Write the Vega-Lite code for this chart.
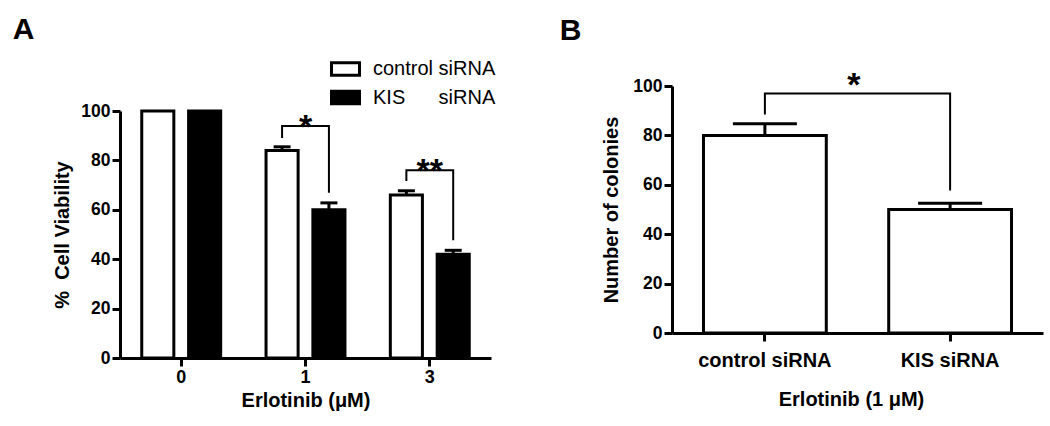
{
  "$schema": "https://vega.github.io/schema/vega-lite/v6.json",
  "background": "white",
  "padding": {"left": 12, "top": 15, "right": 5, "bottom": 5},
  "config": {
    "font": "Liberation Sans",
    "view": {"stroke": null},
    "axis": {
      "domainColor": "black", "domainWidth": 3, "tickColor": "black", "tickWidth": 3, "tickSize": 8,
      "labelColor": "black", "labelFont": "Liberation Sans", "labelFontWeight": "bold", "labelFontSize": 17.5,
      "titleColor": "black", "titleFont": "Liberation Sans", "titleFontWeight": "bold", "titleFontSize": 20,
      "grid": false
    },
    "title": {"fontSize": 30, "fontWeight": "bold", "anchor": "start", "color": "black", "font": "Liberation Sans"},
    "concat": {"spacing": 68}
  },
  "hconcat": [
    {
      "width": 371,
      "height": 272,
      "title": {"text": "A", "dx": -40, "offset": 41},
      "layer": [
        {
          "data": {"values": [
            {"dose": "0", "group": "control siRNA", "value": 100},
            {"dose": "0", "group": "KIS siRNA", "value": 100},
            {"dose": "1", "group": "control siRNA", "value": 84},
            {"dose": "1", "group": "KIS siRNA", "value": 60},
            {"dose": "3", "group": "control siRNA", "value": 66},
            {"dose": "3", "group": "KIS siRNA", "value": 42}
          ]},
          "mark": {"type": "bar", "stroke": "black", "strokeWidth": 3},
          "encoding": {
            "x": {"field": "dose", "type": "nominal", "scale": {"paddingInner": 0.365, "paddingOuter": 0.175},
                  "axis": {"title": "Erlotinib (μM)", "labelAngle": 0, "labelFontSize": 18, "labelPadding": 2, "titlePadding": 4}},
            "xOffset": {"field": "group", "type": "nominal", "scale": {"domain": ["control siRNA", "KIS siRNA"], "paddingInner": 0.315, "paddingOuter": 0}},
            "y": {"field": "value", "type": "quantitative", "scale": {"domain": [0, 100], "nice": false, "range": [272, 25]},
                  "axis": {"values": [0, 20, 40, 60, 80, 100], "title": "%\u00a0 Cell Viability", "labelPadding": 2, "titlePadding": 8}},
            "fill": {"field": "group", "type": "nominal", "scale": {"domain": ["control siRNA", "KIS siRNA"], "range": ["white", "black"]},
                     "legend": {"title": null, "orient": "none", "legendX": 214, "legendY": -28.5, "padding": 0,
                                "symbolType": "M-1.4,-0.63H1.4V0.63H-1.4Z", "symbolSize": 400, "symbolStrokeColor": "black", "symbolStrokeWidth": 3,
                                "labelFontSize": 20, "labelFont": "Liberation Sans", "labelColor": "black", "labelOffset": 16, "rowPadding": 3.5,
                                "labelExpr": "datum.label == 'KIS siRNA' ? 'KIS\u00a0\u00a0\u00a0\u00a0\u00a0\u00a0siRNA' : datum.label"}}
          }
        },
        {
          "data": {"values": [
            {"dose": "1", "group": "control siRNA", "value": 84, "err": 85.5},
            {"dose": "1", "group": "KIS siRNA", "value": 60, "err": 62.8},
            {"dose": "3", "group": "control siRNA", "value": 66, "err": 67.7},
            {"dose": "3", "group": "KIS siRNA", "value": 42, "err": 43.6}
          ]},
          "layer": [
            {
              "mark": {"type": "rule", "color": "black", "strokeWidth": 3},
              "encoding": {
                "x": {"field": "dose", "type": "nominal"},
                "xOffset": {"field": "group", "type": "nominal", "scale": {"domain": ["control siRNA", "KIS siRNA"]}},
                "y": {"field": "value", "type": "quantitative", "title": "%\u00a0 Cell Viability"},
                "y2": {"field": "err"}
              }
            },
            {
              "mark": {"type": "tick", "color": "black", "size": 17, "thickness": 3, "opacity": 1},
              "encoding": {
                "x": {"field": "dose", "type": "nominal"},
                "xOffset": {"field": "group", "type": "nominal", "scale": {"domain": ["control siRNA", "KIS siRNA"]}},
                "y": {"field": "err", "type": "quantitative", "title": "%\u00a0 Cell Viability"}
              }
            }
          ]
        },
        {
          "data": {"values": [
            {"id": "b1", "dose": "1", "group": "control siRNA", "y": 89.1, "ord": 1},
            {"id": "b1", "dose": "1", "group": "control siRNA", "y": 93.9, "ord": 2},
            {"id": "b1", "dose": "1", "group": "KIS siRNA", "y": 93.9, "ord": 3},
            {"id": "b1", "dose": "1", "group": "KIS siRNA", "y": 66.9, "ord": 4},
            {"id": "b3", "dose": "3", "group": "control siRNA", "y": 71.7, "ord": 1},
            {"id": "b3", "dose": "3", "group": "control siRNA", "y": 76.0, "ord": 2},
            {"id": "b3", "dose": "3", "group": "KIS siRNA", "y": 76.0, "ord": 3},
            {"id": "b3", "dose": "3", "group": "KIS siRNA", "y": 47.7, "ord": 4}
          ]},
          "mark": {"type": "line", "color": "black", "strokeWidth": 2},
          "encoding": {
            "x": {"field": "dose", "type": "nominal"},
            "xOffset": {"field": "group", "type": "nominal", "scale": {"domain": ["control siRNA", "KIS siRNA"]}},
            "y": {"field": "y", "type": "quantitative", "title": "%\u00a0 Cell Viability"},
            "detail": {"field": "id"},
            "order": {"field": "ord", "type": "quantitative"}
          }
        },
        {
          "data": {"values": [
            {"dose": "1", "y": 97.2, "star": "*"},
            {"dose": "3", "y": 79.5, "star": "**"}
          ]},
          "mark": {"type": "text", "color": "black", "fontSize": 34, "fontWeight": "bold", "font": "Liberation Sans", "baseline": "middle", "dy": 10},
          "encoding": {
            "x": {"field": "dose", "type": "nominal"},
            "y": {"field": "y", "type": "quantitative", "title": "%\u00a0 Cell Viability"},
            "text": {"field": "star"}
          }
        }
      ]
    },
    {
      "width": 371,
      "height": 247,
      "title": {"text": "B", "dx": -42, "offset": 23},
      "layer": [
        {
          "data": {"values": [
            {"group": "control siRNA", "value": 80},
            {"group": "KIS siRNA", "value": 50}
          ]},
          "mark": {"type": "bar", "fill": "white", "stroke": "black", "strokeWidth": 3},
          "encoding": {
            "x": {"field": "group", "type": "nominal", "scale": {"domain": ["control siRNA", "KIS siRNA"], "paddingInner": 0.337, "paddingOuter": 0.17},
                  "axis": {"title": "Erlotinib (1 μM)", "labelAngle": 0, "labelFontSize": 20, "labelPadding": 9, "titlePadding": 19, "titleX": 179}},
            "y": {"field": "value", "type": "quantitative", "scale": {"domain": [0, 100], "nice": false},
                  "axis": {"values": [0, 20, 40, 60, 80, 100], "title": "Number of colonies", "labelPadding": 2, "titlePadding": 11}}
          }
        },
        {
          "data": {"values": [
            {"group": "control siRNA", "value": 80, "err": 84.7},
            {"group": "KIS siRNA", "value": 50, "err": 52.5}
          ]},
          "layer": [
            {
              "mark": {"type": "rule", "color": "black", "strokeWidth": 3},
              "encoding": {
                "x": {"field": "group", "type": "nominal"},
                "y": {"field": "value", "type": "quantitative", "title": "Number of colonies"},
                "y2": {"field": "err"}
              }
            },
            {
              "mark": {"type": "tick", "color": "black", "size": 64, "thickness": 3, "opacity": 1},
              "encoding": {
                "x": {"field": "group", "type": "nominal"},
                "y": {"field": "err", "type": "quantitative", "title": "Number of colonies"}
              }
            }
          ]
        },
        {
          "data": {"values": [
            {"group": "control siRNA", "y": 88.5, "ord": 1},
            {"group": "control siRNA", "y": 97.0, "ord": 2},
            {"group": "KIS siRNA", "y": 97.0, "ord": 3},
            {"group": "KIS siRNA", "y": 57.7, "ord": 4}
          ]},
          "mark": {"type": "line", "color": "black", "strokeWidth": 2},
          "encoding": {
            "x": {"field": "group", "type": "nominal"},
            "y": {"field": "y", "type": "quantitative", "title": "Number of colonies"},
            "order": {"field": "ord", "type": "quantitative"}
          }
        },
        {
          "data": {"values": [
            {"group": "control siRNA", "y": 104, "star": "*"}
          ]},
          "mark": {"type": "text", "color": "black", "fontSize": 34, "fontWeight": "bold", "font": "Liberation Sans", "baseline": "middle", "dy": 10, "dx": 89},
          "encoding": {
            "x": {"field": "group", "type": "nominal"},
            "y": {"field": "y", "type": "quantitative", "title": "Number of colonies"},
            "text": {"field": "star"}
          }
        }
      ]
    }
  ]
}
